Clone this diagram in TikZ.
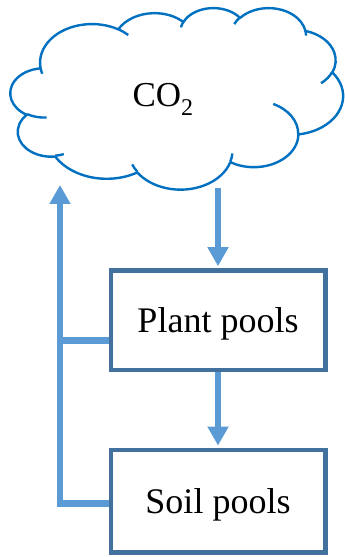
\documentclass[tikz,border=0pt]{standalone}
\usepackage{fontspec}
\setmainfont{Liberation Serif}
\usetikzlibrary{arrows.meta}
\definecolor{cloudblue}{HTML}{0070C0}
\definecolor{arrowblue}{HTML}{5B9BD5}
\definecolor{boxblue}{HTML}{41719C}
% cloud geometry (Office "cloud" preset, 43.2 x 43.2 path units, in thousands)
\def\cldxo{10.5}\def\cldyo{549.5}\def\cldsx{7.6968}\def\cldsy{4.2014}
\newcommand\cldmove[2]{%
  \pgfmathsetmacro\cldpx{\cldxo+#1*\cldsx}%
  \pgfmathsetmacro\cldpy{\cldyo-#2*\cldsy}%
  \pgfpathmoveto{\pgfpoint{\cldpx pt}{\cldpy pt}}}
\newcommand\cldarc[4]{%
  \pgfmathsetmacro\cldta{atan2(#1*sin(#3),#2*cos(#3))}%
  \pgfmathsetmacro\cldtb{atan2(#1*sin(#3+#4),#2*cos(#3+#4))}%
  \pgfmathsetmacro\cldtb{\cldtb+360*(\cldtb<\cldta)}%
  \pgfmathsetmacro\cldna{0-(\cldta)}%
  \pgfmathsetmacro\cldnb{0-(\cldtb)}%
  \pgfmathsetmacro\cldrx{#1*\cldsx}%
  \pgfmathsetmacro\cldry{#2*\cldsy}%
  \pgfpatharc{\cldna}{\cldnb}{\cldrx pt and \cldry pt}}
\tikzset{
  pool/.style={draw=boxblue, line width=4.6pt, minimum width=214.4pt,
    inner sep=0pt, text height=25pt, text depth=0pt,
    font=\fontsize{36}{40}\selectfont},
  flow/.style={draw=arrowblue, line width=6.6pt,
    -{Triangle[width=20pt,length=19pt]}},
  feed/.style={draw=arrowblue, line width=6.6pt},
}
\begin{document}
\begin{tikzpicture}[x=1pt,y=1pt]
\useasboundingbox (0,0) rectangle (345,557);
% cloud
\begin{scope}
\pgfsetlinewidth{2.4pt}
\pgfsetroundjoin
\pgfsetstrokecolor{cloudblue}
\pgfsetfillcolor{white}
\cldmove{3.900}{14.370}
\cldarc{6.753}{9.190}{-190.4875}{123.7805}
\cldarc{5.333}{7.267}{-144.1024}{89.9452}
\cldarc{4.365}{5.945}{-145.8079}{99.7230}
\cldarc{4.857}{6.595}{-130.9861}{117.2417}
\cldarc{5.333}{7.273}{-78.7089}{109.0269}
\cldarc{6.775}{9.220}{-46.2673}{130.2690}
\cldarc{5.785}{7.867}{0.6250}{114.0333}
\cldarc{6.752}{9.215}{22.4516}{115.1726}
\cldarc{7.720}{10.543}{66.2426}{75.7110}
\cldarc{4.360}{5.918}{-274.9421}{146.7356}
\cldarc{4.345}{5.945}{-246.8285}{152.5189}
\pgfpathclose
\pgfusepath{fill,stroke}
\cldmove{4.693}{26.177}\cldarc{4.345}{5.945}{86.7420}{26.4295}
\cldmove{6.928}{34.899}\cldarc{4.360}{5.918}{73.6105}{11.4475}
\cldmove{16.478}{39.090}\cldarc{6.752}{9.215}{137.6242}{14.0811}
\cldmove{28.827}{34.751}\cldarc{6.752}{9.215}{6.4533}{15.9984}
\cldmove{34.129}{22.954}\cldarc{5.785}{7.867}{-70.2924}{70.9174}
\cldmove{41.798}{15.354}\cldarc{5.333}{7.273}{30.3180}{27.7515}
\cldmove{38.324}{5.426}\cldarc{4.857}{6.595}{-13.7443}{14.8589}
\cldmove{29.078}{3.952}\cldarc{4.857}{6.595}{-149.1815}{18.1954}
\cldmove{22.141}{4.720}\cldarc{4.365}{5.945}{-163.4943}{17.6864}
\cldmove{14.000}{5.192}\cldarc{6.753}{9.190}{-66.7070}{12.3194}
\cldmove{4.127}{15.789}\cldarc{6.753}{9.190}{157.6544}{11.8582}
\pgfusepath{stroke}
\end{scope}
\node[anchor=base west, inner sep=0pt, font=\fontsize{35}{40}\selectfont] (co2) at (132.3,450)
  {CO\raisebox{-9pt}{\fontsize{24}{24}\selectfont 2}};
% boxes
\node[pool, minimum height=99.4pt] (plant) at (218,236.5) {Plant pools};
\node[pool, minimum height=102.3pt] (soil) at (218,55.65) {Soil pools};
% connectors
\coordinate (cloudbot) at (218,368.7);
\coordinate (fbtop) at (60,372);
\draw[flow, shorten >=2.3pt] (cloudbot) -- (plant.north);
\draw[flow, shorten >=2.3pt] (plant.south) -- (soil.north);
\draw[feed] ([yshift=-20.2pt]plant.west) coordinate (pj) -- (pj -| fbtop);
\draw[flow] ([yshift=-2.35pt]soil.west) -| (fbtop);
\end{tikzpicture}
\end{document}
